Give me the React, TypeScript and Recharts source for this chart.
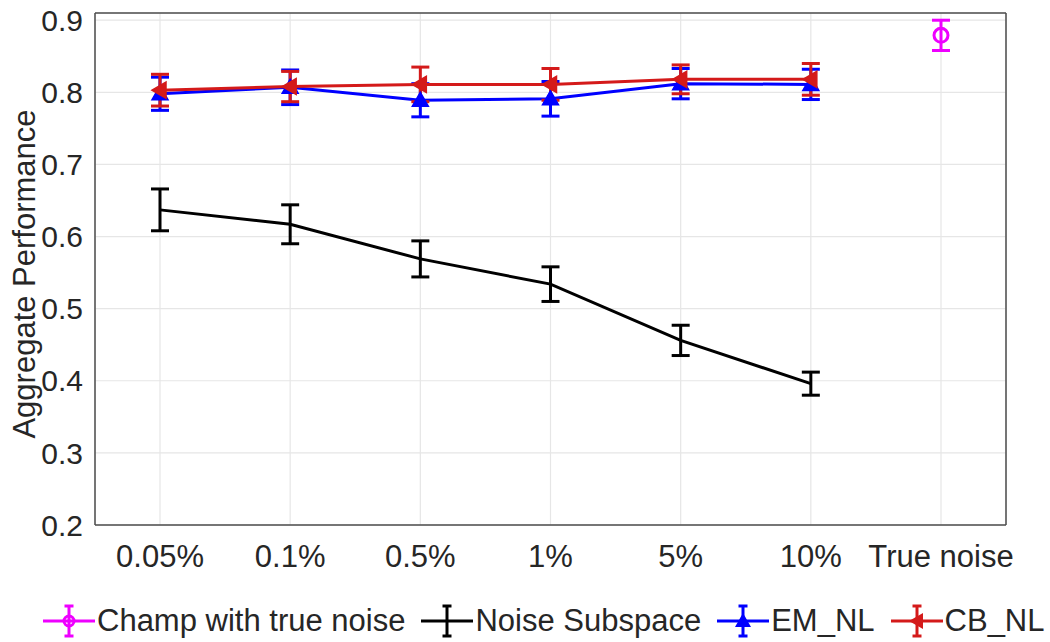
import React from "react";
import { LineChart, Line, XAxis, YAxis, CartesianGrid, ErrorBar } from "recharts";

const categories = ["0.05%", "0.1%", "0.5%", "1%", "5%", "10%", "True noise"];
const champ = [null, null, null, null, null, null, 0.879];
const champErr = [null, null, null, null, null, null, 0.021];
const noiseSub = [0.637, 0.617, 0.569, 0.534, 0.456, 0.396, null];
const noiseSubErr = [0.029, 0.027, 0.025, 0.024, 0.021, 0.016, null];
const emNl = [0.798, 0.807, 0.789, 0.791, 0.812, 0.811, null];
const emNlErr = [0.023, 0.024, 0.023, 0.024, 0.021, 0.021, null];
const cbNl = [0.803, 0.808, 0.811, 0.811, 0.818, 0.818, null];
const cbNlErr = [0.022, 0.021, 0.024, 0.022, 0.02, 0.022, null];
const yTicks = [0.2, 0.3, 0.4, 0.5, 0.6, 0.7, 0.8, 0.9];

const MAGENTA = "#ee00ff";
const BLUE = "#0000ff";
const RED = "#d41a1a";
const BLACK = "#000000";
const AXIS = "#4d4d4d";
const TEXT = "#262626";
const FONT = "'Liberation Sans', Arial, Helvetica, sans-serif";

const data = categories.map((name, i) => ({
  name,
  champ: champ[i],
  champErr: champErr[i],
  noiseSub: noiseSub[i],
  noiseSubErr: noiseSubErr[i],
  emNl: emNl[i],
  emNlErr: emNlErr[i],
  cbNl: cbNl[i],
  cbNlErr: cbNlErr[i],
}));

const ok = (v: any) => v != null && !Number.isNaN(v);

function TriUp(props: any) {
  const { cx, cy, index } = props;
  if (!ok(cx) || !ok(cy)) return <g key={`u${index}`} />;
  const s = 8;
  return (
    <path
      key={`u${index}`}
      d={`M${cx},${cy - s} L${cx + s},${cy + s * 0.75} L${cx - s},${cy + s * 0.75} Z`}
      fill={BLUE}
      stroke={BLUE}
      strokeWidth={1.5}
    />
  );
}

function TriLeft(props: any) {
  const { cx, cy, index } = props;
  if (!ok(cx) || !ok(cy)) return <g key={`l${index}`} />;
  const s = 8;
  return (
    <path
      key={`l${index}`}
      d={`M${cx - s},${cy} L${cx + s * 0.75},${cy - s} L${cx + s * 0.75},${cy + s} Z`}
      fill={RED}
      stroke={RED}
      strokeWidth={1.5}
    />
  );
}

function Circle(props: any) {
  const { cx, cy, index } = props;
  if (!ok(cx) || !ok(cy)) return <g key={`c${index}`} />;
  return <circle key={`c${index}`} cx={cx} cy={cy} r={7} fill="none" stroke={MAGENTA} strokeWidth={3} />;
}

function LegendIcon({ color, marker }: { color: string; marker: string }) {
  const c = 26;
  return (
    <svg width={52} height={40} style={{ display: "block" }}>
      <line x1={0} y1={20} x2={52} y2={20} stroke={color} strokeWidth={3} />
      <line x1={c} y1={5} x2={c} y2={35} stroke={color} strokeWidth={3} />
      <line x1={c - 4.5} y1={5} x2={c + 4.5} y2={5} stroke={color} strokeWidth={3} />
      <line x1={c - 4.5} y1={35} x2={c + 4.5} y2={35} stroke={color} strokeWidth={3} />
      {marker === "circle" && <circle cx={c} cy={20} r={5} fill="none" stroke={color} strokeWidth={3} />}
      {marker === "up" && <path d={`M${c},12 L${c + 8},26 L${c - 8},26 Z`} fill={color} />}
      {marker === "left" && <path d={`M${c - 8},20 L${c + 6},12 L${c + 6},28 Z`} fill={color} />}
    </svg>
  );
}

const legendItems = [
  { label: "Champ with true noise", color: MAGENTA, marker: "circle" },
  { label: "Noise Subspace", color: BLACK, marker: "none" },
  { label: "EM_NL", color: BLUE, marker: "up" },
  { label: "CB_NL", color: RED, marker: "left" },
];

export default function App() {
  const axisLine = { stroke: AXIS, strokeWidth: 1.5 };
  return (
    <div
      style={{
        position: "absolute",
        left: 0,
        top: 0,
        width: 1050,
        height: 642,
        background: "#fff",
        fontFamily: FONT,
        overflow: "hidden",
      }}
    >
      <LineChart
        width={1050}
        height={600}
        data={data}
        margin={{ top: 13, right: 44, bottom: 0, left: 0 }}
        style={{ fontFamily: FONT }}
      >
        <CartesianGrid stroke="#e6e6e6" strokeWidth={1.2} />
        <XAxis
          dataKey="name"
          height={75}
          padding={{ left: 65, right: 65 }}
          interval={0}
          tickLine={false}
          tickSize={0}
          tickMargin={20}
          tick={{ fontSize: 31, fill: TEXT }}
          axisLine={axisLine}
        />
        <XAxis
          dataKey="name"
          xAxisId="bottomIn"
          mirror
          height={1}
          padding={{ left: 65, right: 65 }}
          interval={0}
          tick={false}
          tickSize={9}
          tickLine={axisLine}
          axisLine={false}
        />
        <XAxis
          dataKey="name"
          xAxisId="top"
          orientation="top"
          mirror
          height={1}
          padding={{ left: 65, right: 65 }}
          interval={0}
          tick={false}
          tickSize={9}
          tickLine={axisLine}
          axisLine={axisLine}
        />
        <YAxis
          type="number"
          domain={[0.2, 0.91]}
          ticks={yTicks}
          allowDataOverflow
          width={95}
          tickLine={false}
          tickSize={0}
          tickMargin={12}
          tickFormatter={(v: number) => v.toFixed(1)}
          tick={{ fontSize: 30, fill: TEXT }}
          axisLine={axisLine}
          label={{
            content: (p: any) => {
              const vb = p.viewBox || { x: 0, y: 13, width: 95, height: 512 };
              const x = 24;
              const y = vb.y + vb.height / 2 + 5;
              return (
                <text
                  x={x}
                  y={y}
                  transform={`rotate(-90 ${x} ${y})`}
                  textAnchor="middle"
                  dominantBaseline="central"
                  fontSize={31}
                  fill={TEXT}
                  fontFamily={FONT}
                >
                  Aggregate Performance
                </text>
              );
            },
          }}
        />
        <YAxis
          yAxisId="leftIn"
          type="number"
          domain={[0.2, 0.91]}
          ticks={yTicks}
          allowDataOverflow
          mirror
          width={1}
          tick={false}
          tickSize={9}
          tickLine={axisLine}
          axisLine={false}
        />
        <YAxis
          yAxisId="right"
          orientation="right"
          type="number"
          domain={[0.2, 0.91]}
          ticks={yTicks}
          allowDataOverflow
          mirror
          width={1}
          tick={false}
          tickSize={9}
          tickLine={axisLine}
          axisLine={axisLine}
        />
        <Line
          dataKey="champ"
          stroke={MAGENTA}
          strokeWidth={3}
          dot={Circle}
          activeDot={false}
          isAnimationActive={false}
        >
          <ErrorBar dataKey="champErr" width={9} strokeWidth={3} stroke={MAGENTA} direction="y" />
        </Line>
        <Line
          dataKey="noiseSub"
          stroke={BLACK}
          strokeWidth={3}
          dot={false}
          activeDot={false}
          isAnimationActive={false}
        >
          <ErrorBar dataKey="noiseSubErr" width={9} strokeWidth={3} stroke={BLACK} direction="y" />
        </Line>
        <Line
          dataKey="emNl"
          stroke={BLUE}
          strokeWidth={3}
          dot={TriUp}
          activeDot={false}
          isAnimationActive={false}
        >
          <ErrorBar dataKey="emNlErr" width={9} strokeWidth={3} stroke={BLUE} direction="y" />
        </Line>
        <Line
          dataKey="cbNl"
          stroke={RED}
          strokeWidth={3}
          dot={TriLeft}
          activeDot={false}
          isAnimationActive={false}
        >
          <ErrorBar dataKey="cbNlErr" width={9} strokeWidth={3} stroke={RED} direction="y" />
        </Line>
      </LineChart>
      <div
        style={{
          position: "absolute",
          left: 43,
          top: 601,
          height: 40,
          display: "flex",
          alignItems: "center",
          fontSize: 31,
          color: TEXT,
          whiteSpace: "nowrap",
        }}
      >
        {legendItems.map((it, i) => (
          <div key={it.label} style={{ display: "flex", alignItems: "center", marginLeft: i === 0 ? 0 : 16 }}>
            <LegendIcon color={it.color} marker={it.marker} />
            <span style={{ marginLeft: 2 }}>{it.label}</span>
          </div>
        ))}
      </div>
    </div>
  );
}
